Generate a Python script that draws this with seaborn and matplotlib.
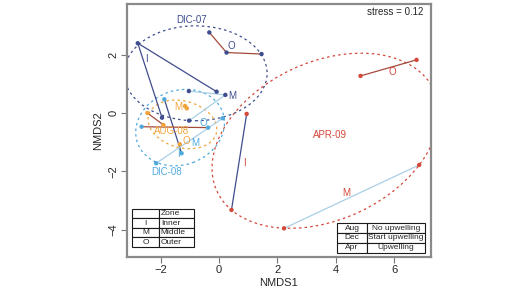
import pandas as pd
import seaborn as sns
import matplotlib
matplotlib.use("Agg")
import matplotlib.pyplot as plt
from matplotlib.patches import Ellipse

# station scores
season = ["DIC-07"] * 9 + ["DIC-08"] * 6 + ["AUG-08"] * 5 + ["APR-09"] * 6
zone = (["I"] * 3 + ["M"] * 3 + ["O"] * 3
        + ["I"] * 2 + ["M"] * 2 + ["O"] * 2
        + ["I"] + ["M"] * 2 + ["O"] * 2
        + ["I"] * 2 + ["M"] * 2 + ["O"] * 2)
nmds1 = [-1.95, -2.78, -0.08, -1.03, 0.22, -1.02, -0.33, 0.26, 1.46,
         -1.87, -1.28, 0.13, -2.15, -2.65, -0.37,
         -1.34, -1.16, -1.10, -2.45, -1.90,
         0.95, 0.43, 2.23, 6.86, 4.85, 6.77]
nmds2 = [-0.16, 2.39, 0.73, 0.75, 0.62, -0.26, 2.76, 2.07, 2.02,
         0.47, -1.38, -0.18, -1.72, -0.47, -0.50,
         -1.07, 0.24, 0.16, 0.00, -0.41,
         -0.03, -3.32, -3.95, -1.78, 1.27, 1.82]

df = pd.DataFrame({"season": season, "zone": zone, "NMDS1": nmds1, "NMDS2": nmds2})

season_names = ["DIC-07", "DIC-08", "AUG-08", "APR-09"]
season_colors = ["#3e4d8e", "#4fa9dc", "#f0a43c", "#d4473a"]
zone_line_colors = {"I": "#404c8c", "M": "#a8d0e6", "O": "#a44a3c"}

# ellipses: centre x, centre y, width, height, angle
ell_x = [-0.8, -1.33, -1.25, 3.65]
ell_y = [1.36, -0.5, -0.39, -0.95]
ell_w = [4.9, 3.1, 2.4, 8.2]
ell_h = [3.25, 2.55, 1.6, 5.4]
ell_a = [0, 20, -15, 25]

# season labels
lab_x = [-0.94, -1.79, -1.62, 3.8]
lab_y = [3.18, -2.03, -0.6, -0.75]

# zone letters
zl_season = ["DIC-07", "DIC-07", "DIC-07", "DIC-08", "DIC-08", "DIC-08",
             "AUG-08", "AUG-08", "APR-09", "APR-09", "APR-09"]
zl_text = ["I", "M", "O", "I", "M", "O", "M", "O", "I", "M", "O"]
zl_x = [-2.48, 0.45, 0.43, -1.39, -0.82, -0.55, -1.4, -1.12, 0.86, 4.35, 5.95]
zl_y = [1.84, 0.59, 2.3, -1.41, -1.02, -0.34, 0.2, -0.97, -1.72, -2.75, 1.41]

zone_rows = [["", "Zone"], ["I", "Inner"], ["M", "Middle"], ["O", "Outer"]]
month_rows = [["Aug", "No upwelling"], ["Dec", "Start upwelling"], ["Apr", "Upwelling"]]

sns.set_theme(style="white")
plt.rcParams["font.family"] = ["Liberation Sans", "DejaVu Sans"]

fig = plt.figure(figsize=(5.28, 2.92), dpi=100)
ax = fig.add_axes([0.2405, 0.12, 0.5755, 0.866])

pal = dict(zip(season_names, season_colors))

# ellipses
for i, s in enumerate(season_names):
    e = Ellipse((ell_x[i], ell_y[i]), ell_w[i], ell_h[i], angle=ell_a[i],
                fill=False, edgecolor=pal[s], lw=0.9, linestyle=(0, (2, 2.5)), zorder=1)
    ax.add_patch(e)

# lines joining stations of one zone
for (s, z), g in df.groupby(["season", "zone"], sort=False):
    if len(g) > 1:
        ax.plot(g["NMDS1"], g["NMDS2"], color=zone_line_colors[z], lw=0.9, zorder=2)

sns.scatterplot(data=df, x="NMDS1", y="NMDS2", hue="season", palette=pal,
                s=10, edgecolor="none", legend=False, ax=ax, zorder=3)

for i, s in enumerate(season_names):
    ax.text(lab_x[i], lab_y[i], s, color=pal[s], fontsize=7, ha="center", va="center")

for s, t, x, y in zip(zl_season, zl_text, zl_x, zl_y):
    ax.text(x, y, t, color=pal[s], fontsize=7, ha="center", va="center")

ax.text(7.0, 3.45, "stress = 0.12", fontsize=7, ha="right", va="center")

ax.set_xlim(-3.15, 7.26)
ax.set_ylim(-4.93, 3.73)
ax.set_xticks([-2, 0, 2, 4, 6])
ax.set_yticks([-4, -2, 0, 2])
ax.set_xticklabels(["\u22122", "0", "2", "4", "6"])
ax.set_yticklabels(["\u22124", "\u22122", "0", "2"], rotation=90, va="center")
ax.tick_params(axis="both", direction="out", length=4, width=0.8, color="#777777",
               labelsize=8, pad=2, bottom=True, left=True)
ax.set_xlabel("NMDS1", fontsize=8, labelpad=2)
ax.set_ylabel("NMDS2", fontsize=8, labelpad=4)
for sp in ax.spines.values():
    sp.set_color("#8a8a8a")
    sp.set_linewidth(1.6)

t1 = ax.table(cellText=zone_rows, colWidths=[0.44, 0.56], bbox=[0.016, 0.04, 0.204, 0.15],
              cellLoc="center")
t1.auto_set_font_size(False)
t1.set_fontsize(6)
for (r, c), cell in t1.get_celld().items():
    cell.set_linewidth(0.8)
    cell.set_facecolor("white")
    if c == 1:
        cell.set_text_props(ha="left")
        cell.PAD = 0.05

t2 = ax.table(cellText=month_rows, colWidths=[0.35, 0.65], bbox=[0.69, 0.016, 0.29, 0.118],
              cellLoc="center")
t2.auto_set_font_size(False)
t2.set_fontsize(6)
for (r, c), cell in t2.get_celld().items():
    cell.set_linewidth(0.8)
    cell.set_facecolor("white")

fig.savefig("out.png", dpi=100)
